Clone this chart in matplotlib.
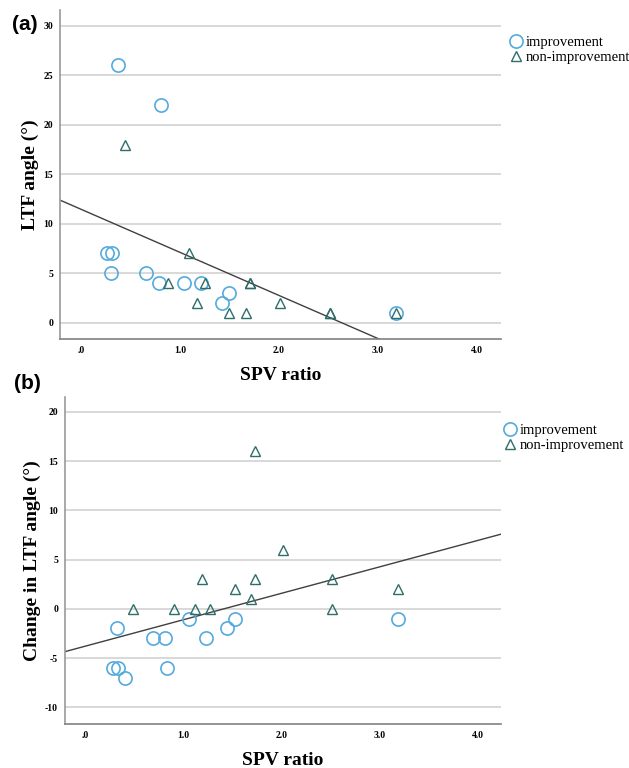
import matplotlib
matplotlib.use("Agg")
import matplotlib.pyplot as plt
import numpy as np

# ---- data ----
# (a) LTF angle vs SPV ratio
imp_x_a = [0.38, 0.81, 0.26, 0.31, 0.30, 0.66, 0.79, 1.04, 1.21, 1.42, 1.50, 3.18]
imp_y_a = [26, 22, 7, 7, 5, 5, 4, 4, 4, 2, 3, 1]
non_x_a = [0.45, 0.88, 1.09, 1.17, 1.25, 1.50, 1.67, 1.71, 1.71, 2.01, 2.51, 2.51, 3.18]
non_y_a = [18, 4, 7, 2, 4, 1, 1, 4, 4, 2, 1, 1, 1]
fit_a = (11.47, -4.36)  # intercept, slope of the total fit line

# (b) change in LTF angle vs SPV ratio
imp_x_b = [0.32, 0.28, 0.33, 0.40, 0.69, 0.81, 0.83, 1.06, 1.23, 1.44, 1.52, 3.19]
imp_y_b = [-2, -6, -6, -7, -3, -3, -6, -1, -3, -2, -1, -1]
non_x_b = [0.48, 0.90, 1.12, 1.19, 1.27, 1.52, 1.69, 1.73, 1.73, 2.02, 2.52, 2.52, 3.19]
non_y_b = [0, 0, 0, 3, 0, 2, 1, 16, 3, 6, 3, 0, 2]
fit_b = (-3.79, 2.68)

x_ticks = [0, 1, 2, 3, 4]
x_tick_labels = [".0", "1.0", "2.0", "3.0", "4.0"]
y_ticks_a = [0, 5, 10, 15, 20, 25, 30]
y_ticks_b = [-10, -5, 0, 5, 10, 15, 20]
legend_labels = ["improvement", "non-improvement"]

CIRCLE_COLOR = "#55aadd"
TRI_COLOR = "#2e6e68"
SERIF = "Liberation Serif"

W, H = 629, 768
fig = plt.figure(figsize=(W / 100, H / 100), dpi=100)


def px_axes(left, top, right, bottom):
    return fig.add_axes([left / W, 1 - bottom / H, (right - left) / W, (bottom - top) / H])


def draw_panel(ax, ix, iy, nx, ny, fit, yticks, ylim, ylabel, leg_xy):
    ax.set_xlim(-0.21, 4.24)
    ax.set_ylim(*ylim)
    for v in yticks:
        ax.axhline(v, color="#d2d2d2", lw=1.2, zorder=0)
    xs = np.array(ax.get_xlim())
    ax.plot(xs, fit[0] + fit[1] * xs, color="#404040", lw=1.0, zorder=2)
    h1, = ax.plot(ix, iy, linestyle="none", marker="o", ms=9.5, mfc="none",
                  mec=CIRCLE_COLOR, mew=1.2, zorder=3)
    h2, = ax.plot(nx, ny, linestyle="none", marker="^", ms=7.5, mfc="none",
                  mec=TRI_COLOR, mew=1.0, zorder=4)
    for s in ["top", "right"]:
        ax.spines[s].set_visible(False)
    ax.spines["left"].set_color("#9a9a9a")
    ax.spines["bottom"].set_color("#808080")
    ax.spines["left"].set_linewidth(1.2)
    ax.spines["bottom"].set_linewidth(1.2)
    ax.set_xticks(x_ticks)
    ax.set_xticklabels(x_tick_labels)
    ax.set_yticks(yticks)
    ax.set_yticklabels([str(v) for v in yticks])
    ax.tick_params(length=0, labelsize=7, pad=5)
    ax.tick_params(axis="x", pad=5)
    for lab in ax.get_xticklabels() + ax.get_yticklabels():
        lab.set_fontfamily(SERIF)
        lab.set_fontweight("bold")
    ax.set_xlabel("SPV ratio", fontsize=14, fontweight="bold", family=SERIF, labelpad=9)
    ax.set_ylabel(ylabel, fontsize=14, fontweight="bold", family=SERIF, labelpad=3)
    ax.legend([h1, h2], legend_labels, loc="upper left",
              bbox_to_anchor=(leg_xy[0] / W, 1 - leg_xy[1] / H),
              bbox_transform=fig.transFigure, frameon=False,
              prop={"family": SERIF, "size": 10.5}, handlelength=0.8,
              handletextpad=0.25, borderaxespad=0, borderpad=0,
              labelspacing=0.1)


ax_a = px_axes(60, 10, 501, 339)
draw_panel(ax_a, imp_x_a, imp_y_a, non_x_a, non_y_a, fit_a, y_ticks_a,
           (-1.65, 31.6), "LTF angle (°)", (510, 36))

ax_b = px_axes(65, 397, 501, 724)
draw_panel(ax_b, imp_x_b, imp_y_b, non_x_b, non_y_b, fit_b, y_ticks_b,
           (-11.7, 21.5), "Change in LTF angle (°)", (504, 424))

fig.text(12 / W, 1 - 25 / H, "(a)", fontsize=15, fontweight="bold",
         family="Liberation Sans", va="center", ha="left")
fig.text(14 / W, 1 - 383 / H, "(b)", fontsize=15, fontweight="bold",
         family="Liberation Sans", va="center", ha="left")

fig.savefig("out.png", dpi=100)
